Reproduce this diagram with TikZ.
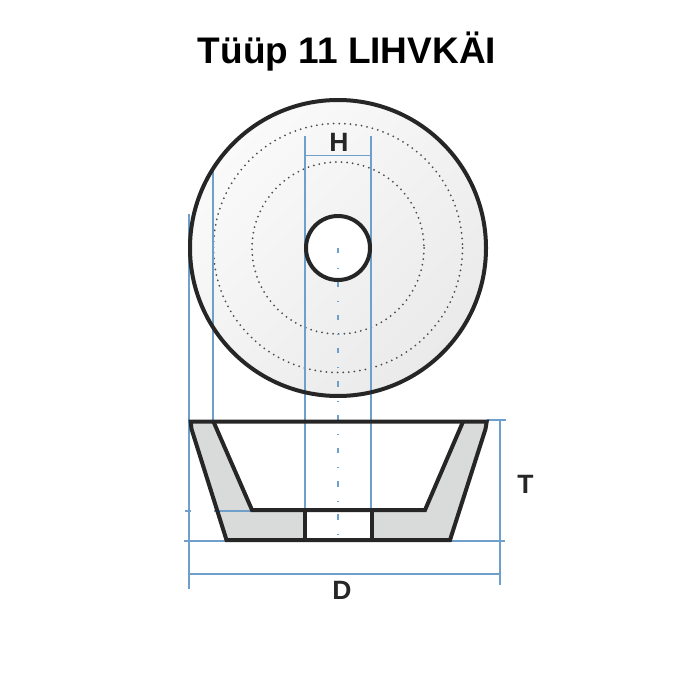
\documentclass[tikz,border=0pt]{standalone}
\usepackage{fontspec}
\setmainfont{Liberation Sans}
\definecolor{dimblue}{HTML}{6F9FCB}
\definecolor{secgray}{HTML}{D9DBDA}
\definecolor{gradlight}{HTML}{FAFAFA}
\definecolor{graddark}{HTML}{EAEAEA}
\tikzset{
  px/.style={x=1pt,y=-1pt},
  outline/.style={draw=black!85,line width=4pt,line join=miter},
  dim/.style={draw=dimblue,line width=1.5pt},
  centre/.style={draw=dimblue,line width=1.5pt,dash pattern=on 5.5pt off 14pt on 1pt off 12.8pt},
  ring/.style={draw=black!70,line width=2pt,line cap=round,dash pattern=on 0pt off 5.6pt},
  lab/.style={font=\bfseries\fontsize{26.5}{27}\selectfont,text=black!85,inner sep=0pt},
}
\begin{document}
\begin{tikzpicture}[px]
\useasboundingbox (0,0) rectangle (700,700);
\node[font=\bfseries\fontsize{37}{38}\selectfont,inner sep=0pt] (title) at (347,52) {Tüüp 11 LIHVKÄI};
% plan view
\coordinate (c) at (338,248);
\shade[top color=gradlight,bottom color=graddark,shading angle=45] (c) circle (148);
\draw[ring] (c) circle (124.5);
\draw[ring] (c) circle (86);
\fill[white] (c) circle (32);
% section
\fill[secgray] (190.7,421.7) -- (213.5,421.7) -- (252,510) -- (304.5,510) -- (304.5,540) -- (226.5,540) -- (191.5,429) -- cycle;
\fill[secgray] (486.7,421.7) -- (463,421.7) -- (425,510) -- (371.7,510) -- (371.7,540) -- (450,540) -- (485.5,429) -- cycle;
% dimension lines
\coordinate (tl) at (189.2,214); \coordinate (bl) at (189.2,589);
\coordinate (t2) at (213.2,166); \coordinate (b2) at (213.2,421);
\coordinate (h1) at (305,136); \coordinate (h1b) at (305,510);
\coordinate (h2) at (371,136); \coordinate (h2b) at (371,510);
\draw[dim] (tl) -- (bl);
\draw[dim] (t2) -- (b2);
\draw[dim] (h1) -- (h1b);
\draw[dim] (h2) -- (h2b);
\draw[dim] (305,155.5) -- (371,155.5);
\draw[dim] (213.5,511) -- (252,511);
\draw[dim] (185,511) -- (191,511);
\draw[dim] (184,541) -- (226,541);
\draw[dim] (450,541) -- (505,541);
\draw[dim] (487,420) -- (506,420);
\draw[dim] (189.2,574) -- (500,574);
\draw[dim] (500,420) -- (500,585);
\draw[centre] (338,248) -- (338,535);
% outlines
\draw[outline] (c) circle (148);
\draw[outline] (c) circle (32);
\draw[outline] (191.5,429) -- (190.7,421.7) -- (486.7,421.7) -- (485.5,429) -- (450,540) -- (226.5,540) -- cycle;
\draw[outline] (213.5,421.7) -- (252,510) -- (425,510) -- (463,421.7);
\draw[outline] (304.5,510) -- (304.5,540);
\draw[outline] (371.7,510) -- (371.7,540);
% labels
\node[lab] (H) at (339,142) {H};
\node[lab] (T) at (525.5,484) {T};
\node[lab] (D) at (342,590) {D};
\end{tikzpicture}
\end{document}
